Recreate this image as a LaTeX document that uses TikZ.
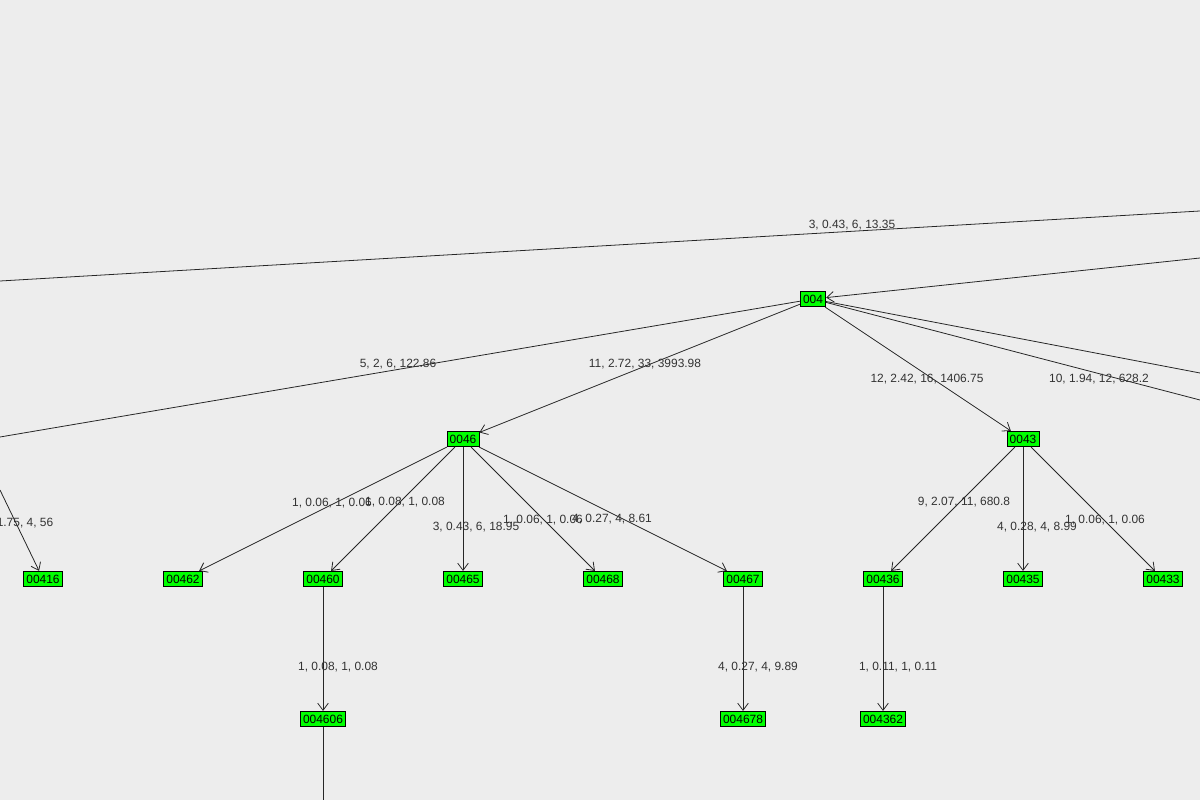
\documentclass[tikz,border=0pt]{standalone}
\usepackage{fontspec}
\setmainfont{Liberation Sans}
\usetikzlibrary{arrows.meta}
\begin{document}
\begin{tikzpicture}[x=0.02cm,y=-0.02cm,
  nd/.style={draw=black,fill=green,line width=0.4pt,inner xsep=1.6pt,inner ysep=0.8pt,minimum height=8.8pt,font=\fontsize{6.8}{7}\selectfont},
  lb/.style={font=\fontsize{6.8}{7}\selectfont,text=black!80},
  ed/.style={draw=black!85,line width=0.45pt,-{Straight Barb[length=4pt,width=6pt]}}]
\fill[black!7] (0,0) rectangle (1200,800);
\useasboundingbox (0,0) rectangle (1200,800);
\node[nd] (n004) at (813,299) {004};
\node[nd] (n0046) at (463,439) {0046};
\node[nd] (n0043) at (1023,439) {0043};
\foreach \n/\x in {00416/43,00462/183,00460/323,00465/463,00468/603,00467/743,00436/883,00435/1023,00433/1163}
  \node[nd] (n\n) at (\x,579) {\n};
\node[nd] (n004606) at (323,719) {004606};
\node[nd] (n004678) at (743,719) {004678};
\node[nd] (n004362) at (883,719) {004362};
\coordinate (a1) at (1200,211); \coordinate (a2) at (0,281);
\coordinate (b1) at (1200,258);
\coordinate (c1) at (1200,373); \coordinate (c2) at (1200,400);
\coordinate (d1) at (0,437); \coordinate (e1) at (0,490);
\coordinate (f1) at (323,800);
\draw[black!85,line width=0.45pt] (a1) -- (a2);
\draw[ed] (b1) -- (n004);
\draw[black!85,line width=0.45pt] (n004) -- (c1);
\draw[black!85,line width=0.45pt] (n004) -- (c2);
\draw[black!85,line width=0.45pt] (n004) -- (d1);
\draw[ed] (e1) -- (n00416);
\draw[ed] (n004) -- (n0046);
\draw[ed] (n004) -- (n0043);
\foreach \t in {00462,00460,00465,00468,00467} \draw[ed] (n0046) -- (n\t);
\foreach \t in {00436,00435,00433} \draw[ed] (n0043) -- (n\t);
\draw[ed] (n00460) -- (n004606);
\draw[ed] (n00467) -- (n004678);
\draw[ed] (n00436) -- (n004362);
\draw[black!85,line width=0.45pt] (n004606) -- (f1);
\node[lb] at (852,225) {3, 0.43, 6, 13.35};
\node[lb] at (398,364) {5, 2, 6, 122.86};
\node[lb] at (645,364) {11, 2.72, 33, 3993.98};
\node[lb] at (927,379) {12, 2.42, 16, 1406.75};
\node[lb] at (1099,379) {10, 1.94, 12, 628.2};
\node[lb] at (25,523) {1.75, 4, 56};
\node[lb] at (332,503) {1, 0.06, 1, 0.06};
\node[lb] at (405,502) {1, 0.08, 1, 0.08};
\node[lb] at (476,527) {3, 0.43, 6, 18.95};
\node[lb] at (543,520) {1, 0.06, 1, 0.06};
\node[lb] at (612,519) {4, 0.27, 4, 8.61};
\node[lb] at (964,502) {9, 2.07, 11, 680.8};
\node[lb] at (1037,527) {4, 0.28, 4, 8.99};
\node[lb] at (1105,520) {1, 0.06, 1, 0.06};
\node[lb] at (338,667) {1, 0.08, 1, 0.08};
\node[lb] at (758,667) {4, 0.27, 4, 9.89};
\node[lb] at (898,667) {1, 0.11, 1, 0.11};
\end{tikzpicture}
\end{document}
